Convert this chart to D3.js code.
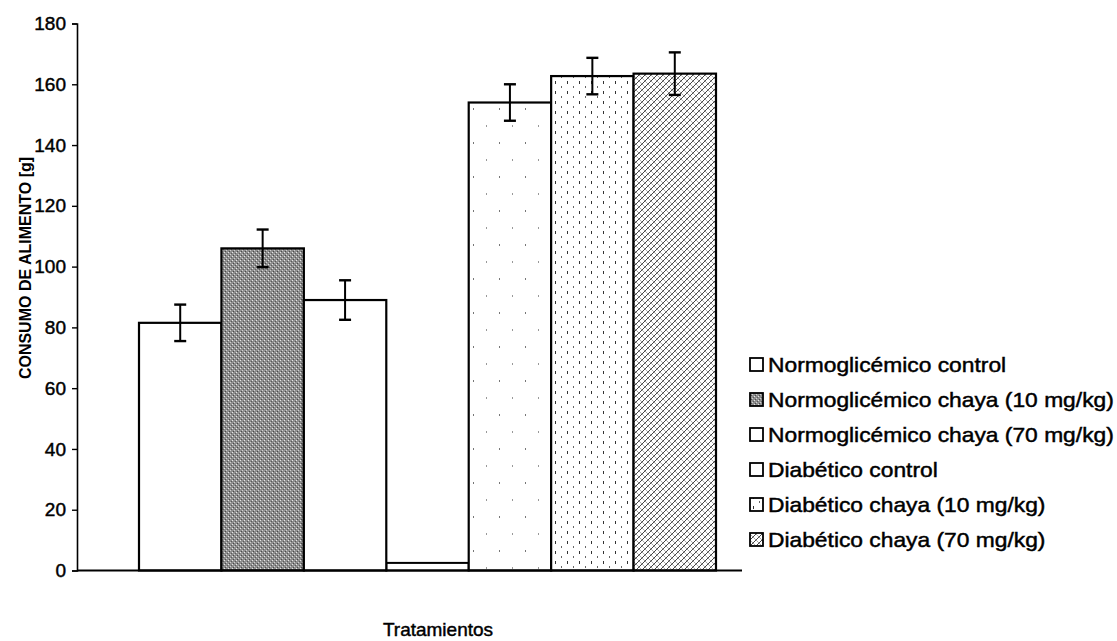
<!DOCTYPE html>
<html>
<head>
<meta charset="utf-8">
<script src="https://cdn.jsdelivr.net/npm/d3@7"></script>
<style>
  html, body { margin: 0; padding: 0; background: #fff; }
  svg { display: block; }
  text { font-family: Arial, "Liberation Sans", sans-serif; fill: #000; }
  .heavy { stroke: #000; stroke-width: 0.45px; }
</style>
</head>
<body>
<svg id="chart" width="1117" height="641"></svg>
<script>
// Food consumption per treatment group (g), mean and error
const series = [
  "Normoglicémico control",
  "Normoglicémico chaya (10 mg/kg)",
  "Normoglicémico chaya (70 mg/kg)",
  "Diabético control",
  "Diabético chaya (10 mg/kg)",
  "Diabético chaya (70 mg/kg)"
];
const means = [81.5, 106, 89, 154, 162.7, 163.5];
const errors = [6, 6.2, 6.5, 6, 6, 7];
const fills = ["url(#p-white)", "url(#p-gray)", "url(#p-white)", "url(#p-sparse)", "url(#p-dash)", "url(#p-hatch)"];

// bar slots along the axis: three normoglycemic bars, a separator bar, three diabetic bars
const slots = ["N0", "N10", "N70", "sep", "D0", "D10", "D70"];
const slotOfSeries = ["N0", "N10", "N70", "D0", "D10", "D70"];
const separatorValue = 2.5;

const yTicks = [0, 20, 40, 60, 80, 100, 120, 140, 160, 180];
const yTitle = "CONSUMO DE ALIMENTO [g]";
const xTitle = "Tratamientos";

const svg = d3.select("#chart");

// fill patterns
const defs = svg.append("defs");
const pw = defs.append("pattern").attr("id", "p-white").attr("patternUnits", "userSpaceOnUse").attr("width", 4).attr("height", 4);
pw.append("rect").attr("width", 4).attr("height", 4).attr("fill", "#fff");

const pg = defs.append("pattern").attr("id", "p-gray").attr("patternUnits", "userSpaceOnUse").attr("width", 4).attr("height", 4);
pg.append("rect").attr("width", 4).attr("height", 4).attr("fill", "#8e8e8e");
pg.append("rect").attr("x", 0).attr("y", 0).attr("width", 1).attr("height", 1).attr("fill", "#e6e6e6");
pg.append("rect").attr("x", 2).attr("y", 2).attr("width", 1).attr("height", 1).attr("fill", "#d0d0d0");
pg.append("rect").attr("x", 1).attr("y", 3).attr("width", 1).attr("height", 1).attr("fill", "#4a4a4a");
pg.append("rect").attr("x", 3).attr("y", 1).attr("width", 1).attr("height", 1).attr("fill", "#5a5a5a");

const ps = defs.append("pattern").attr("id", "p-sparse").attr("patternUnits", "userSpaceOnUse").attr("width", 26).attr("height", 34);
ps.append("rect").attr("width", 26).attr("height", 34).attr("fill", "#fff");
ps.append("rect").attr("x", 5).attr("y", 6).attr("width", 1).attr("height", 2).attr("fill", "#777");
ps.append("rect").attr("x", 18).attr("y", 23).attr("width", 1).attr("height", 2).attr("fill", "#999");

const pd = defs.append("pattern").attr("id", "p-dash").attr("patternUnits", "userSpaceOnUse").attr("width", 12).attr("height", 10);
pd.append("rect").attr("width", 12).attr("height", 10).attr("fill", "#fff");
pd.append("rect").attr("x", 3).attr("y", 1).attr("width", 1).attr("height", 3).attr("fill", "#333");
pd.append("rect").attr("x", 9).attr("y", 6).attr("width", 1).attr("height", 2).attr("fill", "#666");

const ph = defs.append("pattern").attr("id", "p-hatch").attr("patternUnits", "userSpaceOnUse").attr("width", 6).attr("height", 6);
ph.append("rect").attr("width", 6).attr("height", 6).attr("fill", "#fff");
ph.append("path").attr("d", "M-1,1 L1,-1 M0,6 L6,0 M5,7 L7,5").attr("stroke", "#444").attr("stroke-width", 1);
ph.append("path").attr("d", "M-1,5 L1,7 M0,0 L6,6 M5,-1 L7,1").attr("stroke", "#aaa").attr("stroke-width", 1);

// scales
const y = d3.scaleLinear().domain([0, 180]).range([570.5, 23.5]);
const x = d3.scaleBand().domain(slots).range([139, 716]).paddingInner(0).paddingOuter(0);
const axisX0 = 77, axisX1 = 742;

// y axis
const yAxis = d3.axisLeft(y).tickValues(yTicks).tickSize(5).tickPadding(6).tickFormat(d3.format("d"));
const gy = svg.append("g").attr("transform", `translate(${axisX0},0)`).call(yAxis);
gy.select(".domain").attr("stroke", "#000").attr("stroke-width", 1.6);
gy.selectAll(".tick line").attr("stroke", "#000").attr("stroke-width", 1.4);
gy.selectAll(".tick text")
  .attr("class", "heavy")
  .attr("font-size", 19)
  .attr("font-family", "Arial, 'Liberation Sans', sans-serif")
  .attr("fill", "#000");

// bars
const data = series.map((s, i) => ({ name: s, mean: means[i], err: errors[i], slot: slotOfSeries[i], fill: fills[i] }));

svg.append("rect")
  .attr("x", x("sep"))
  .attr("y", y(separatorValue))
  .attr("width", x.bandwidth())
  .attr("height", y(0) - y(separatorValue))
  .attr("fill", "#fff")
  .attr("stroke", "#000")
  .attr("stroke-width", 2);

svg.append("g").selectAll("rect.bar").data(data).join("rect")
  .attr("class", "bar")
  .attr("x", d => x(d.slot))
  .attr("y", d => y(d.mean))
  .attr("width", x.bandwidth())
  .attr("height", d => y(0) - y(d.mean))
  .attr("fill", d => d.fill)
  .attr("stroke", "#000")
  .attr("stroke-width", 2.2);

// x axis line
svg.append("line")
  .attr("x1", axisX0).attr("x2", axisX1)
  .attr("y1", y(0)).attr("y2", y(0))
  .attr("stroke", "#000").attr("stroke-width", 1.8);

// error bars
const capHalf = 6;
const eg = svg.append("g").selectAll("g").data(data).join("g")
  .attr("transform", d => `translate(${x(d.slot) + x.bandwidth() / 2},0)`);
eg.append("line").attr("x1", 0).attr("x2", 0)
  .attr("y1", d => y(d.mean + d.err)).attr("y2", d => y(d.mean - d.err))
  .attr("stroke", "#000").attr("stroke-width", 2);
eg.append("line").attr("x1", -capHalf).attr("x2", capHalf)
  .attr("y1", d => y(d.mean + d.err)).attr("y2", d => y(d.mean + d.err))
  .attr("stroke", "#000").attr("stroke-width", 2.4);
eg.append("line").attr("x1", -capHalf).attr("x2", capHalf)
  .attr("y1", d => y(d.mean - d.err)).attr("y2", d => y(d.mean - d.err))
  .attr("stroke", "#000").attr("stroke-width", 2.4);

// axis titles
svg.append("text")
  .attr("transform", `translate(31,268) rotate(-90)`)
  .attr("text-anchor", "middle")
  .attr("font-size", 16)
  .attr("font-weight", "bold")
  .text(yTitle);

svg.append("text")
  .attr("class", "heavy")
  .attr("x", 438).attr("y", 636)
  .attr("text-anchor", "middle")
  .attr("font-size", 19)
  .text(xTitle);

// legend
const legend = svg.append("g").selectAll("g").data(data).join("g")
  .attr("transform", (d, i) => `translate(750,${365 + i * 35})`);
legend.append("rect")
  .attr("x", 0).attr("y", -7).attr("width", 13).attr("height", 13)
  .attr("fill", d => d.fill)
  .attr("stroke", "#000").attr("stroke-width", 1.8);
legend.append("text")
  .attr("class", "heavy")
  .attr("transform", "translate(18,7) scale(1.14,1)")
  .attr("font-size", 20)
  .text(d => d.name);
</script>
</body>
</html>
